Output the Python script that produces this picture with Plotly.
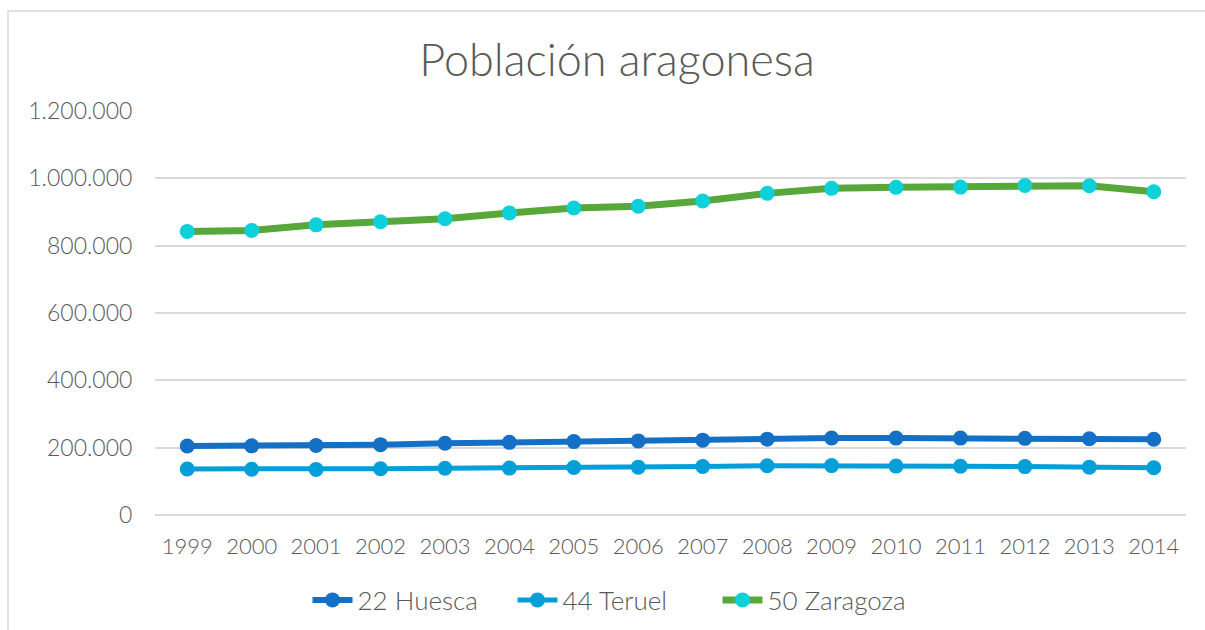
import plotly.graph_objects as go

years = [str(y) for y in range(1999, 2015)]
huesca = [204956, 205430, 206502, 208963, 212901, 215864, 218023, 220107,
          222296, 225271, 228566, 228409, 228361, 227609, 226329, 224909]
teruel = [136840, 135858, 135396, 137342, 138686, 139333, 141091, 142160,
          144046, 146324, 146751, 145277, 144607, 143728, 142183, 140365]
zaragoza = [842419, 845132, 861855, 871209, 880118, 897350, 912072, 917288,
            932502, 955323, 970313, 973252, 974000, 978638, 978130, 960111]
series_names = ["22 Huesca", "44 Teruel", "50 Zaragoza"]
y_ticks = [0, 200000, 400000, 600000, 800000, 1000000, 1200000]

FONT = "Lato"
GRAY = "#595959"
GRID = "#d9d9d9"

fig = go.Figure()
fig.add_trace(go.Scatter(x=years, y=huesca, name=series_names[0], mode="lines+markers",
                         line=dict(color="#1470c5", width=6),
                         marker=dict(color="#1470c5", size=15)))
fig.add_trace(go.Scatter(x=years, y=teruel, name=series_names[1], mode="lines+markers",
                         line=dict(color="#049fd9", width=5),
                         marker=dict(color="#049fd9", size=15)))
fig.add_trace(go.Scatter(x=years, y=zaragoza, name=series_names[2], mode="lines+markers",
                         line=dict(color="#58a73b", width=7),
                         marker=dict(color="#0dd0da", size=15)))

W, H = 1205, 630
L, T = 155, 111
R = W - 1186
B = H - 515
pw, ph = W - L - R, H - T - B

fig.update_layout(
    width=W, height=H,
    margin=dict(l=L, r=R, t=T, b=B),
    paper_bgcolor="white", plot_bgcolor="white",
    separators=",.",
    font=dict(family=FONT, color=GRAY, size=23, weight=300),
    title=dict(text="Población aragonesa", x=617 / W, xref="container", xanchor="center",
               y=1 - 60 / H, yref="container", yanchor="middle",
               font=dict(family=FONT, size=45, color=GRAY, weight=300)),
    showlegend=True,
    legend=dict(orientation="h", xref="container", yref="container",
                x=615 / W, xanchor="center", y=1 - 600 / H, yanchor="middle",
                font=dict(family=FONT, size=26, color=GRAY, weight=300), itemwidth=40,
                entrywidth=150, entrywidthmode="pixels",
                traceorder="normal"),
    xaxis=dict(type="category", range=[-0.5, 15.5], showgrid=False, showline=False,
               zeroline=False, ticks="outside", ticklen=12, tickcolor="rgba(0,0,0,0)",
               tickfont=dict(family=FONT, size=22, color=GRAY, weight=300)),
    yaxis=dict(range=[0, 1200000], tickvals=y_ticks, tickformat=",d",
               showgrid=True, gridcolor=GRID, gridwidth=1.5,
               zeroline=True, zerolinecolor=GRID, zerolinewidth=1.5,
               showline=False, ticks="outside", ticklen=17, tickcolor="rgba(0,0,0,0)",
               tickfont=dict(family=FONT, size=23, color=GRAY, weight=300)),
    shapes=[dict(type="rect", xref="paper", yref="paper",
                 x0=(8 - L) / pw, x1=(W + 30 - L) / pw,
                 y0=-(H + 30 - T - ph) / ph, y1=(T + ph - 11) / ph,
                 line=dict(color=GRID, width=1.5), fillcolor="rgba(0,0,0,0)",
                 layer="below")],
)

fig.write_html("out.html", config={"displayModeBar": False},
               post_script="document.body.style.margin='0';document.body.style.overflow='hidden';")
